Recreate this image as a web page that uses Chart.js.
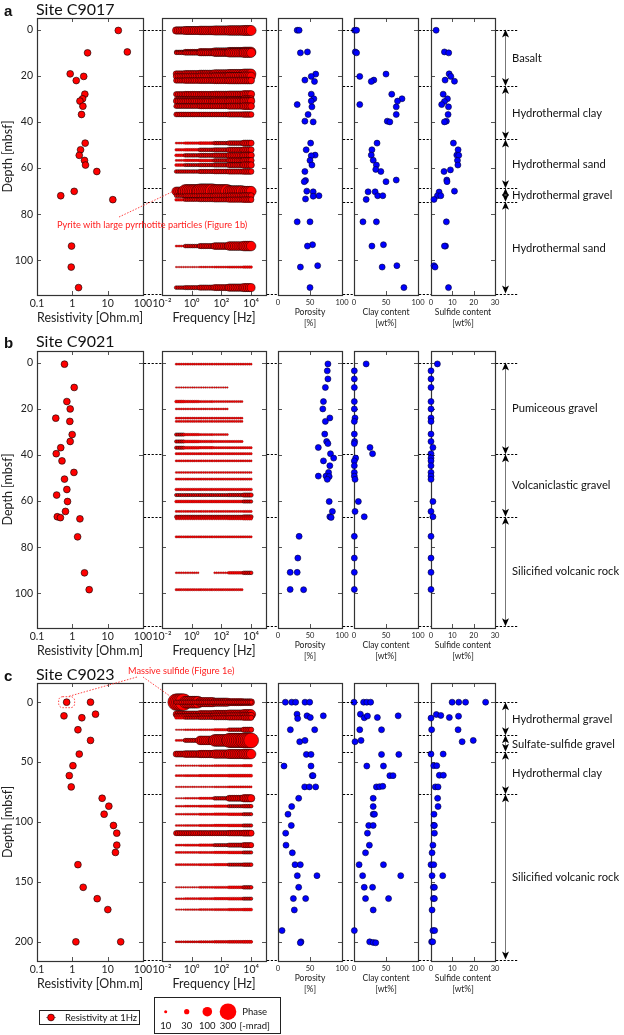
<!DOCTYPE html>
<html>
<head>
<meta charset="utf-8">
<script src="https://cdn.jsdelivr.net/npm/chart.js@4.4.0/dist/chart.umd.min.js"></script>
<style>
  body { margin: 0; background: #fff; width: 624px; height: 1035px; position: relative; overflow: hidden; font-family: Lato, "Open Sans", sans-serif; }
  canvas { position: absolute; }
  .t { position: absolute; white-space: nowrap; color: #111; line-height: 1; }
</style>
</head>
<body>
<script>
// ---- measurement frequencies of the SIP spectra [Hz]
const freqs = [0.09, 0.12, 0.16, 0.21, 0.28, 0.37, 0.49, 0.65, 0.87, 1.15, 1.5, 2, 2.7, 3.6, 4.7, 6.3, 8.3,
  11, 15, 20, 26, 35, 46, 61, 81, 108, 143, 190, 250, 330, 440, 590, 780, 1040, 1380, 1830, 2430, 3230,
  4290, 5700, 7570, 10000];
// phase read at 0.1, 1, 10, 100, 1000, 10000 Hz for each spectrum (-mrad), null = no data
const phaseFreqs = [0.1, 1, 10, 100, 1000, 10000];
const legendPhases = [10, 30, 100, 300];

// ---- Site C9017
const resDepthA = [0.4, 9.7, 10.1, 19.2, 20.3, 22.1, 28, 30, 31, 33.2, 36.8, 49.2, 52.1, 54.5, 56.7, 58.7, 61.5, 70.1, 72, 73.7, 93.8, 102.9, 111.8];
const resA = [20, 36, 2.7, 0.87, 2.1, 1.29, 2.26, 1.95, 1.64, 1.99, 1.82, 2.31, 1.71, 1.57, 2.21, 2.36, 4.93, 1.13, 0.47, 14, 0.95, 0.93, 1.5];
const phaseA = [
  [60, 70, 80, 90, 100, 110], [15, 30, 50, 70, 90, 100], [15, 25, 40, 55, 75, 90], [40, 50, 60, 70, 85, 100],
  [35, 40, 50, 60, 70, 80], [30, 35, 40, 45, 50, 50], [30, 35, 35, 40, 45, 55], [15, 15, 15, 15, 20, 40],
  [35, 35, 35, 40, 45, 60], [25, 25, 30, 30, 40, 50], [25, 25, 25, 25, 30, 35], [5, 8, 10, 15, 25, 40],
  [8, 10, 15, 20, 30, 40], [10, 15, 20, 25, 35, 45], [5, 8, 10, 15, 25, 40], [10, 12, 15, 20, 30, 45],
  [15, 15, 20, 25, 30, 35], [80, 200, 240, 200, 140, 110], [15, 20, 25, 30, 35, 40], [10, 15, 20, 25, 30, 35],
  [5, 15, 30, 50, 80, 100], [3, 3, 4, 5, 6, 8], [15, 20, 30, 40, 60, 70]
];
const poroDepthA = [0.3, 0.3, 9.7, 10.1, 19.3, 20.3, 21.9, 22.5, 28, 30, 31, 32.5, 33.5, 36.8, 39.7, 40, 49.2, 52.1, 54.4, 54.7, 56.7, 58.7, 61.5, 65.4, 65.9, 70, 70.3, 72, 72.2, 73.4, 83.3, 83.3, 93.2, 93.8, 102.3, 102.9, 111.8];
const poroA = [30, 33, 46, 35, 59, 52, 42, 57, 52, 56, 52, 30, 53, 47, 42, 55, 51, 44, 58, 52, 50, 53, 42, 43, 41, 45, 55, 64, 55, 43, 30, 50, 54, 46, 62, 35, 50];
const clayDepthA = [0.3, 0.3, 9.7, 10.1, 19.3, 20.3, 21.9, 22.5, 28, 30, 31, 32.5, 33.5, 36.8, 39.7, 40, 49.2, 52.1, 54.4, 56.6, 58.7, 60.6, 61.5, 65.2, 65.9, 70.3, 70.3, 72, 72, 73.6, 83.3, 83.3, 93.2, 93.8, 102.3, 102.9, 111.8];
const clayA = [1, 4, 2, 4, 50, 9, 31, 27, 59, 75, 68, 9, 66, 66, 52, 56, 36, 28, 27, 30, 35, 34, 42, 66, 50, 22, 33, 37, 45, 19, 14, 35, 46, 28, 67, 44, 78];
const sulfDepthA = [0.3, 9.7, 10.1, 19.2, 20.3, 21.9, 22.4, 28, 30, 31.2, 32.5, 33.5, 36.8, 39.7, 40, 49.2, 52.1, 54.4, 54.5, 56.7, 58.7, 60.8, 61.5, 65.2, 65.9, 70, 70.4, 72, 72, 73.6, 83.3, 93.8, 93.8, 102.3, 102.9, 111.8];
const sulfA = [2.4, 6.3, 8.3, 8.5, 9.3, 6.6, 11, 5.7, 7.7, 6.3, 5, 8.2, 8, 7.2, 6.3, 10.5, 12.7, 12.1, 13, 12.4, 12.6, 9.1, 6.1, 7.4, 7.5, 11, 3.8, 3, 4.6, 1.4, 7.2, 6.8, 6.3, 1.4, 1.9, 8.2];
const layersA = ['Basalt', 'Hydrothermal clay', 'Hydrothermal sand', 'Hydrothermal gravel', 'Hydrothermal sand'];
const boundsA = [0, 24.5, 47.6, 68.8, 74.6, 114.4];

// ---- Site C9021
const resDepthB = [0.7, 10.8, 16.9, 20.1, 24.1, 25.5, 31.2, 34.2, 36.9, 39.5, 42.6, 47.6, 50.5, 55, 57.4, 60.2, 64.5, 66.8, 67.2, 67.7, 75.5, 91.1, 98.4];
const resB = [0.60, 1.13, 0.70, 0.87, 0.34, 0.85, 0.99, 0.87, 0.47, 0.35, 0.51, 1.11, 0.60, 0.70, 0.36, 0.73, 0.64, 0.375, 0.46, 1.64, 1.41, 2.21, 3.0];
const phaseB = [
  [5, 5, 5, 5, 5, 5], [3, 3, 3, 3, null, null], [10, 8, 6, 5, 5, null], [4, 4, 4, 4, null, null],
  [5, 5, 5, 5, 5, null], [5, 5, 5, 5, 5, null], [12, 8, 6, 5, null, null], [12, 10, 8, 6, 6, null],
  [12, 10, 8, 6, 6, 6], [6, 6, 6, 6, 6, 6], [5, 5, 5, 5, 5, 5], [4, 4, 4, 4, 4, 4],
  [6, 6, 6, 6, 6, 6], [8, 8, 8, 8, 8, 8], [12, 12, 12, 12, 14, 20], [10, 10, 10, 10, 10, 12],
  [5, 5, 5, 5, 5, 6], [12, 12, 12, 12, 12, 18], [6, 6, 6, 6, 8, 10], [5, 5, 5, 5, 6, 8],
  [6, 6, 6, 6, 6, 6], [4, 4, null, 4, 10, 15], [6, 6, 6, 6, 6, null]
];
const poroDepthB = [0.6, 3.6, 7.1, 10.8, 16.9, 20.1, 24, 25.5, 31, 34.2, 35.1, 36.8, 39.5, 41.4, 42.6, 44.7, 47.6, 49.2, 49.2, 49.4, 50.6, 60.2, 64.5, 66.8, 67.1, 75.3, 84.7, 90.9, 90.9, 98.3, 98.4];
const poroB = [78, 77, 78, 74, 71, 70, 81, 74, 73, 76, 78, 63, 82, 87, 71, 81, 79, 63, 75, 80, 77, 80, 85, 81, 83, 33, 31, 19, 30, 19, 40];
const clayDepthB = [0.6, 3.6, 7.1, 10.8, 16.9, 20.1, 24, 25.5, 31, 34.2, 35.1, 36.8, 39.5, 41.4, 42.6, 44.7, 47.6, 49.2, 50.6, 60.2, 64.5, 66.8, 75.3, 84.7, 90.9, 98.3];
const clayB = [19, 0.5, 0.5, 0.5, 0.5, 0.5, 1.6, 0.5, 0.5, 1, 0.5, 25, 29, 2.6, 0.5, 0.5, 0.5, 0.5, 1.6, 6.8, 1.6, 16, 0.5, 0.5, 0.5, 0.5];
const sulfDepthB = [0.6, 3.6, 7.1, 10.8, 16.9, 20.1, 24, 25.5, 31, 34.2, 36.8, 39.5, 41.4, 42.6, 44.7, 47.6, 49.2, 50.6, 60.2, 64.5, 66.8, 75.3, 84.7, 90.9, 98.3];
const sulfB = [3, 0, 0, 0, 0, 0, 0, 0, 0, 0, 0.9, 0, 0, 0, 0, 0, 0, 0, 0.9, 0, 0.9, 0, 0, 0, 0];
const layersB = ['Pumiceous gravel', 'Volcaniclastic gravel', 'Silicified volcanic rock'];
const boundsB = [0, 39.7, 66.8, 114.2];

// ---- Site C9023
const resDepthC = [0, 0, 10, 11.4, 13, 23, 31.9, 43.3, 53, 61.3, 70.7, 80.2, 86.8, 93.5, 102.9, 109.3, 119.3, 125.4, 135.6, 154.5, 164, 173.1, 200, 200];
const resC = [0.69, 3.27, 4.53, 0.58, 1.86, 1.44, 3.27, 1.57, 1.04, 0.82, 0.93, 6.98, 10.8, 7.94, 14.6, 18.1, 18.1, 16.6, 1.44, 2.03, 5.05, 10.1, 1.26, 23.4];
const phaseC = [
  [300, 150, 90, 70, 55, 50], [20, 20, 20, 20, 20, 20], [40, 45, 55, 65, 75, 90], [20, 25, 30, 35, 45, 55],
  [10, 12, 15, 20, 25, 30], [3, 4, 5, 8, 15, 30], [5, 20, 80, 150, 220, 240], [40, 50, 60, 75, 90, 100],
  [3, 3, 4, 5, 6, 8], [5, 6, 7, 8, 10, 10], [3, 3, 3, 4, 5, 5], [3, 4, 6, 15, 40, 60],
  [4, 5, 6, 8, 12, 15], [4, 5, 6, 8, 10, 12], [4, 5, 6, 8, 10, 12], [30, 30, 30, 30, 35, 40],
  [5, 6, 8, 12, 20, 30], [5, 5, 6, 8, 10, 12], [5, 5, 6, 8, 12, 15], [3, 3, 5, 6, 10, 15],
  [4, 5, 6, 8, 10, 12], [3, 4, 5, 6, 8, 10], [4, 5, 6, 8, 10, 10], [3, 3, 4, 5, 6, 8]
];
const poroDepthC = [0, 0, 0, 0, 0, 10, 13.6, 11.4, 12.8, 11.4, 23, 23, 33, 31.9, 43.6, 43.6, 53.3, 53.3, 61.3, 61.3, 70.7, 70.7, 70.7, 80.2, 87.1, 93.5, 102.9, 109.3, 119.3, 125.7, 135.6, 135.6, 144.8, 144.8, 154.5, 163.9, 163.9, 173.4, 190.6, 200, 200.8];
const poroC = [11.5, 21.4, 27.6, 42.2, 49.5, 29.7, 30.7, 45.3, 50.5, 70.8, 19.3, 57.3, 33.9, 42.2, 44.3, 51.6, 9.4, 51.6, 53.6, 54.7, 41.7, 49, 58.9, 32.3, 21.4, 15.6, 20.8, 12, 12.5, 22.4, 26.6, 34.9, 30.2, 60.9, 32.3, 24, 43.2, 25.5, 6.3, 35.9, 34.9];
const clayDepthC = [0, 0, 0, 0, 10, 13, 11.6, 12.8, 11.4, 23, 23, 33, 31.9, 43.6, 43.6, 53.3, 53.3, 61.3, 61.3, 70.7, 70.5, 70.2, 80.2, 87.1, 93.5, 93.5, 102.9, 102.9, 109.3, 119.3, 125.7, 135.6, 135.6, 144.8, 144.8, 154.5, 154.5, 163.9, 163.9, 173.4, 190.6, 200, 200.5, 200.8];
const clayC = [0, 15, 20, 26, 10, 16, 21, 36.5, 69, 9, 43, 1.6, 11, 43, 70, 20, 46, 56, 61, 35, 40, 45, 30, 30, 30, 32, 23, 30, 21, 24, 18, 8, 46, 13.5, 73, 16, 29, 18, 54, 30, 0.5, 24.5, 30, 34];
const sulfDepthC = [0, 0, 0, 0, 10.3, 11.1, 13.3, 12.8, 11.7, 23, 23, 33, 31.9, 43.3, 43.3, 53, 53, 61, 61, 70.7, 70.7, 80.2, 87.1, 93.5, 102.9, 102.9, 109.3, 119.3, 125.7, 135.6, 135.6, 144.8, 144.8, 154.5, 154.5, 163.9, 163.9, 173.4, 190.6, 190.6, 200, 200];
const sulfC = [9.9, 13, 16.2, 25.6, 2.5, 4.6, 0, 8.6, 12.9, 0.3, 12.7, 14.6, 19.8, 0, 5.7, 1.3, 2.7, 3.9, 5.8, 2, 3.3, 3.1, 3.3, 1.4, 1.3, 1.6, 1.6, 0.9, 0.5, 0, 1.3, 0.5, 5.5, 1.1, 1.6, 1.1, 1.6, 0.5, 0.9, 1.7, 0.3, 0.8];
const layersC = ['Hydrothermal gravel', 'Sulfate-sulfide gravel', 'Hydrothermal clay', 'Silicified volcanic rock'];
const boundsC = [0, 27.7, 41.4, 76.9, 214.8];

// ---- axis ticks
const depthTicksAB = [0, 20, 40, 60, 80, 100];
const depthTicksC = [0, 50, 100, 150, 200];
const resTicks = [0.1, 1, 10, 100];
const freqTicks = [0.01, 1, 100, 10000];
const pctTicks = [0, 50, 100];
const sulfTicks = [0, 10, 20, 30];

const sites = [
  { tag: 'a', name: 'Site C9017', yMin: -5, yMax: 115, yTicks: depthTicksAB, resDepth: resDepthA, res: resA, phase: phaseA,
    poroDepth: poroDepthA, poro: poroA, clayDepth: clayDepthA, clay: clayA, sulfDepth: sulfDepthA, sulf: sulfA, layers: layersA, bounds: boundsA },
  { tag: 'b', name: 'Site C9021', yMin: -5, yMax: 115, yTicks: depthTicksAB, resDepth: resDepthB, res: resB, phase: phaseB,
    poroDepth: poroDepthB, poro: poroB, clayDepth: clayDepthB, clay: clayB, sulfDepth: sulfDepthB, sulf: sulfB, layers: layersB, bounds: boundsB },
  { tag: 'c', name: 'Site C9023', yMin: -16, yMax: 216, yTicks: depthTicksC, resDepth: resDepthC, res: resC, phase: phaseC,
    poroDepth: poroDepthC, poro: poroC, clayDepth: clayDepthC, clay: clayC, sulfDepth: sulfDepthC, sulf: sulfC, layers: layersC, bounds: boundsC }
];

// ---- layout
const FONT = 'Lato, "Open Sans", sans-serif';
const COLS = { res: [37, 143], freq: [162, 266], poro: [278, 342], clay: [354, 418], sulf: [431, 495] };
const ROWS = [[18, 295], [351, 628], [683, 961]];
const TITLE_Y = [8.5, 341, 674];
const RED = '#ff0000';

function phaseRadius(p) { return 0.48 * Math.sqrt(p); }
const SUP = { '-': '⁻', '0': '⁰', '1': '¹', '2': '²', '3': '³', '4': '⁴', '5': '⁵' };
function pow10Label(v) { return '10' + String(Math.round(Math.log10(v))).split('').map(c => SUP[c]).join(''); }

// frame + inward ticks like the matplotlib panels
const framePlugin = {
  id: 'frame',
  beforeDatasetsDraw(chart) {
    const { ctx, chartArea: a, scales } = chart;
    const o = chart.options.plugins.frame;
    ctx.save();
    ctx.strokeStyle = '#555';
    ctx.lineWidth = 1;
    ctx.beginPath();
    o.xTicks.forEach(v => {
      const x = Math.round(scales.x.getPixelForValue(v)) + 0.5;
      if (x > a.left + 2 && x < a.right - 2) {
        ctx.moveTo(x, a.bottom); ctx.lineTo(x, a.bottom - 4);
        ctx.moveTo(x, a.top); ctx.lineTo(x, a.top + 4);
      }
    });
    o.yTicks.forEach(v => {
      const y = Math.round(scales.y.getPixelForValue(v)) + 0.5;
      if (y > a.top + 2 && y < a.bottom - 2) {
        ctx.moveTo(a.left, y); ctx.lineTo(a.left + 4, y);
        ctx.moveTo(a.right, y); ctx.lineTo(a.right - 4, y);
      }
    });
    ctx.stroke();
    ctx.strokeStyle = '#333';
    ctx.lineWidth = 1.2;
    ctx.strokeRect(a.left + 0.5, a.top + 0.5, a.right - a.left, a.bottom - a.top);
    ctx.restore();
  }
};

function panel(kind, row, cfg) {
  const [x0, x1] = COLS[kind];
  const [top, bottom] = ROWS[row];
  const isRes = kind === 'res';
  const small = !(kind === 'res' || kind === 'freq');
  const yW = isRes ? 37 : 0;
  const padL = isRes ? 0 : 14, padR = 14, padT = 12;
  const xH = small ? 33 : 30;
  const cv = document.createElement('canvas');
  cv.width = x1 - x0 + padL + padR + yW;
  cv.height = bottom - top + padT + xH;
  const left = x0 - yW - padL, ctop = top - padT;
  cv.style.left = left + 'px';
  cv.style.top = ctop + 'px';
  document.body.appendChild(cv);
  const chart = new Chart(cv, {
    type: cfg.type,
    data: { datasets: cfg.datasets },
    options: {
      responsive: false, animation: false, devicePixelRatio: 1, events: [],
      layout: { padding: { left: padL, right: padR, top: padT, bottom: 0 } },
      plugins: { legend: { display: false }, tooltip: { enabled: false }, frame: { xTicks: cfg.xTicks, yTicks: cfg.yTicks } },
      scales: {
        x: {
          type: cfg.xType, min: cfg.xMin, max: cfg.xMax, position: 'bottom',
          afterFit: s => { s.height = xH; s.paddingLeft = 0; s.paddingRight = 0; },
          afterBuildTicks: s => { s.ticks = cfg.xTicks.map(v => ({ value: v })); },
          grid: { display: false, drawTicks: false }, border: { display: false },
          ticks: { autoSkip: false, maxRotation: 0, padding: small ? 3 : 2, color: '#222',
            font: { family: FONT, size: small ? 7.5 : 10.5 }, callback: cfg.xLabel },
          title: { display: true, text: cfg.xTitle, color: '#222', font: { family: FONT, size: small ? 8.5 : 12.5 },
            padding: { top: 0, bottom: 0 } }
        },
        y: {
          type: 'linear', reverse: true, min: cfg.yMin, max: cfg.yMax, display: isRes,
          afterFit: s => { s.width = yW; s.paddingTop = 0; s.paddingBottom = 0; },
          afterBuildTicks: s => { s.ticks = cfg.yTicks.map(v => ({ value: v })); },
          grid: { display: false, drawTicks: false }, border: { display: false },
          ticks: { padding: 4, color: '#222', font: { family: FONT, size: 10.5 } },
          title: { display: true, text: 'Depth [mbsf]', color: '#222', font: { family: FONT, size: 12.5 }, padding: { top: 0, bottom: 0 } }
        }
      }
    },
    plugins: [framePlugin]
  });
  return { chart, left, top: ctop };
}

function pts(depths, vals) { return depths.map((d, i) => ({ x: vals[i], y: d })); }
function spectra(depths, phases) {
  const out = [];
  depths.forEach((d, i) => {
    freqs.forEach(f => {
      const k = Math.min(phaseFreqs.length - 1, Math.max(0, Math.round(Math.log10(f)) + 1));
      const p = phases[i][k];
      if (p != null) out.push({ x: f, y: d, r: phaseRadius(p) });
    });
  });
  return out;
}
const blue = data => ({ data, pointRadius: 3, pointBackgroundColor: '#0000ff', pointBorderColor: '#000030', pointBorderWidth: 0.6, clip: false });
// tiny phase dots get a thinner, reddish outline so they stay red like the original
const bubbleEdge = c => (c.raw && c.raw.r < 1.6 ? '#6a0000' : '#000');
const bubbleEdgeW = c => (c.raw && c.raw.r < 1.6 ? 0.35 : 0.5);

const rowPanels = sites.map((s, row) => {
  const base = { yMin: s.yMin, yMax: s.yMax, yTicks: s.yTicks };
  const res = panel('res', row, { ...base, type: 'scatter', xType: 'logarithmic', xMin: 0.1, xMax: 100, xTicks: resTicks,
    xLabel: v => String(v), xTitle: 'Resistivity [Ohm.m]',
    datasets: [{ data: pts(s.resDepth, s.res), pointRadius: 3.4, pointBackgroundColor: RED, pointBorderColor: '#000', pointBorderWidth: 0.6, clip: false }] });
  const freq = panel('freq', row, { ...base, type: 'bubble', xType: 'logarithmic', xMin: 0.01, xMax: 100000, xTicks: freqTicks,
    xLabel: v => pow10Label(v), xTitle: 'Frequency [Hz]',
    datasets: [{ data: spectra(s.resDepth, s.phase), backgroundColor: RED, borderColor: bubbleEdge, borderWidth: bubbleEdgeW, clip: false }] });
  const poro = panel('poro', row, { ...base, type: 'scatter', xType: 'linear', xMin: 0, xMax: 100, xTicks: pctTicks,
    xLabel: v => String(v), xTitle: ['Porosity', '[%]'], datasets: [blue(pts(s.poroDepth, s.poro))] });
  const clay = panel('clay', row, { ...base, type: 'scatter', xType: 'linear', xMin: 0, xMax: 100, xTicks: pctTicks,
    xLabel: v => String(v), xTitle: ['Clay content', '[wt%]'], datasets: [blue(pts(s.clayDepth, s.clay))] });
  const sulf = panel('sulf', row, { ...base, type: 'scatter', xType: 'linear', xMin: 0, xMax: 30, xTicks: sulfTicks,
    xLabel: v => String(v), xTitle: ['Sulfide content', '[wt%]'], datasets: [blue(pts(s.sulfDepth, s.sulf))] });
  return [res, freq, poro, clay, sulf];
});

// ---- overlay: boundaries, arrows, annotations, legend
const ov = document.createElement('canvas');
ov.width = 624; ov.height = 1035;
ov.style.left = '0px'; ov.style.top = '0px';
document.body.appendChild(ov);
const g = ov.getContext('2d');

const px = (p, v) => p.left + p.chart.scales.x.getPixelForValue(v);
const py = (p, d) => p.top + p.chart.scales.y.getPixelForValue(d);
const edge = (p, side) => p.left + p.chart.chartArea[side];

function text(txt, x, y, size, o = {}) {
  const d = document.createElement('div');
  d.className = 't';
  d.textContent = txt;
  d.style.left = x + 'px';
  d.style.top = y + 'px';
  d.style.fontSize = size + 'px';
  d.style.transform = o.center ? 'translate(-50%,-50%)' : 'translateY(-50%)';
  if (o.color) d.style.color = o.color;
  if (o.bold) d.style.fontWeight = 'bold';
  if (o.family) d.style.fontFamily = o.family;
  document.body.appendChild(d);
}

function arrowHead(x, y, dir) {
  g.beginPath();
  g.moveTo(x, y);
  g.lineTo(x - 3.5, y + dir * 8);
  g.lineTo(x, y + dir * 6);
  g.lineTo(x + 3.5, y + dir * 8);
  g.closePath();
  g.fill();
}

sites.forEach((s, row) => {
  const P = rowPanels[row];
  const sulfR = edge(P[4], 'right');
  // dashed unit boundaries in the gaps
  g.save();
  g.strokeStyle = '#000';
  g.lineWidth = 1.2;
  g.setLineDash([2.2, 1.6]);
  s.bounds.forEach(d => {
    const y = Math.round(py(P[0], d)) + 0.5;
    g.beginPath();
    for (let i = 0; i < 4; i++) {
      g.moveTo(edge(P[i], 'right') + 1, y);
      g.lineTo(edge(P[i + 1], 'left'), y);
    }
    g.moveTo(sulfR + 1, y);
    g.lineTo(sulfR + 23, y);
    g.stroke();
  });
  g.restore();
  // double arrows and unit names
  const ax = Math.round(sulfR + 10) + 0.5;
  s.layers.forEach((name, i) => {
    const y0 = py(P[0], s.bounds[i]), y1 = py(P[0], s.bounds[i + 1]);
    g.strokeStyle = '#777';
    g.lineWidth = 1;
    g.beginPath(); g.moveTo(ax, y0 + 4); g.lineTo(ax, y1 - 4); g.stroke();
    g.fillStyle = '#000';
    arrowHead(ax, y0, 1);
    arrowHead(ax, y1, -1);
    text(name, sulfR + 17, (y0 + y1) / 2, 11.2);
  });
  text(s.tag, 4, TITLE_Y[row] + 1, 15, { bold: true, family: '"Liberation Sans", Arial, sans-serif' });
  text(s.name, 36, TITLE_Y[row], 16);
});

// red annotations
g.save();
g.strokeStyle = '#ff3030';
g.lineWidth = 0.9;
g.setLineDash([1.5, 1.5]);
{
  const P = rowPanels[0][1];
  const bx = px(P, freqs[0]) - 3, by = py(P, resDepthA[17]);
  g.beginPath(); g.moveTo(119, 217); g.lineTo(bx, by); g.stroke();
  text('Pyrite with large pyrrhotite particles (Figure 1b)', 57, 225, 9.2, { color: '#ff2020' });
}
{
  const R = rowPanels[2][0], F = rowPanels[2][1];
  const rx = px(R, resC[0]), ry = py(R, resDepthC[0]);
  g.beginPath(); g.roundRect(rx - 8, ry - 5.5, 16, 11, 4); g.stroke();
  const bx = px(F, freqs[0]), by = py(F, resDepthC[0]), r = phaseRadius(phaseC[0][0]);
  g.beginPath();
  g.moveTo(137, 677); g.lineTo(rx + 1, ry - 5.5);
  g.moveTo(143, 677); g.lineTo(bx - r * 0.7, by - r * 0.7);
  g.stroke();
  text('Massive sulfide (Figure 1e)', 128, 670.5, 9.2, { color: '#ff2020' });
}
g.restore();

// legends
g.strokeStyle = '#222';
g.lineWidth = 1;
g.strokeRect(39.5, 1010.5, 100, 14);
g.strokeStyle = '#999';
g.beginPath(); g.moveTo(46, 1017.5); g.lineTo(56, 1017.5); g.stroke();
g.fillStyle = RED; g.strokeStyle = '#000'; g.lineWidth = 0.6;
g.beginPath(); g.arc(51, 1017.5, 3.4, 0, Math.PI * 2); g.fill(); g.stroke();
text('Resistivity at 1Hz', 65, 1017.5, 9.5);

g.strokeStyle = '#222'; g.lineWidth = 1;
g.strokeRect(154.5, 997.5, 126, 36);
const legX = [165.7, 186.7, 207.3, 228];
legendPhases.forEach((p, i) => {
  g.fillStyle = RED;
  g.beginPath(); g.arc(legX[i], 1011.7, phaseRadius(p), 0, Math.PI * 2); g.fill();
  text(String(p), legX[i], 1025.7, 9.5, { center: true });
});
text('Phase', 254.7, 1011.7, 9.5, { center: true });
text('[-mrad]', 254.7, 1025.7, 9.5, { center: true });
</script>
</body>
</html>
